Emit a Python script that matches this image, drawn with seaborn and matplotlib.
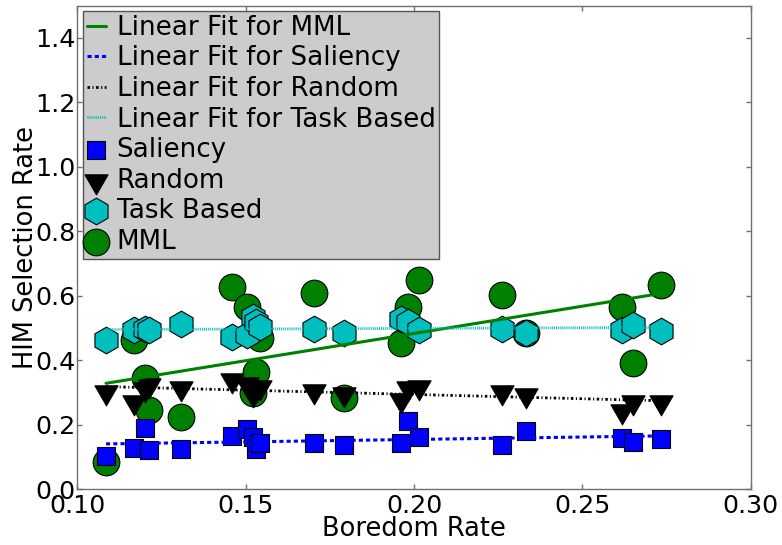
import numpy as np
import matplotlib
matplotlib.use("Agg")
import matplotlib.pyplot as plt
from matplotlib.ticker import FormatStrFormatter
import seaborn as sns

# Boredom rate per participant (shared by all four conditions)
boredom = [0.1085, 0.1167, 0.1201, 0.1214, 0.1307, 0.1458, 0.1505, 0.1523,
           0.1531, 0.1542, 0.1704, 0.1793, 0.1960, 0.1983, 0.2015, 0.2261,
           0.2332, 0.2617, 0.2649, 0.2733]

# HIM selection rate per condition
saliency = [0.104, 0.127, 0.189, 0.122, 0.126, 0.166, 0.186, 0.162, 0.125, 0.144,
            0.143, 0.137, 0.145, 0.213, 0.162, 0.137, 0.182, 0.158, 0.148, 0.156]
random_sel = [0.303, 0.272, 0.311, 0.324, 0.316, 0.339, 0.327, 0.296, 0.308, 0.317,
              0.306, 0.295, 0.277, 0.316, 0.318, 0.303, 0.292, 0.244, 0.272, 0.271]
task_based = [0.463, 0.494, 0.499, 0.494, 0.513, 0.473, 0.479, 0.535, 0.519, 0.503,
              0.497, 0.484, 0.527, 0.518, 0.494, 0.497, 0.484, 0.494, 0.510, 0.492]
mml = [0.085, 0.463, 0.344, 0.246, 0.225, 0.627, 0.566, 0.298, 0.365, 0.468,
       0.608, 0.282, 0.455, 0.566, 0.649, 0.603, 0.484, 0.566, 0.393, 0.634]

x_ticks = [0.10, 0.15, 0.20, 0.25, 0.30]
y_ticks = [0.0, 0.2, 0.4, 0.6, 0.8, 1.0, 1.2, 1.4]

sns.set_style("ticks")
FS_LABEL = 18.5
FS_TICK = 18.3
FS_LEGEND = 18.8
plt.rcParams.update({
    "font.family": ["DejaVu Sans"],
    "font.size": FS_LABEL,
    "text.color": "black",
    "axes.labelcolor": "black",
    "lines.scale_dashes": False,
    "axes.edgecolor": "#707070",
    "axes.linewidth": 1.0,
    "xtick.color": "#707070",
    "ytick.color": "#707070",
    "xtick.labelcolor": "black",
    "ytick.labelcolor": "black",
})

fig = plt.figure(figsize=(7.82, 5.45), dpi=100)
fig.patch.set_facecolor("white")
ax = fig.add_axes([0.099, 0.102, 0.861, 0.8875])
ax.set_facecolor("white")

GREEN = (0.0, 0.5, 0.0)
BLUE = (0.0, 0.0, 1.0)
CYAN = (0.0, 0.75, 0.75)
BLACK = (0.0, 0.0, 0.0)
S = 369  # marker area in points^2

# Scatter points (MML underneath the others)
sns.scatterplot(x=boredom, y=mml, marker="o", s=S, color=GREEN, edgecolor="black",
                linewidth=0.8, label="MML", ax=ax, legend=False)
sns.scatterplot(x=boredom, y=saliency, marker=(4, 0, 45), s=S, color=BLUE,
                edgecolor="black", linewidth=0.8, label="Saliency", ax=ax, legend=False)
sns.scatterplot(x=boredom, y=random_sel, marker=(3, 0, 180), s=S, color=BLACK,
                edgecolor="black", linewidth=0.8, label="Random", ax=ax, legend=False)
sns.scatterplot(x=boredom, y=task_based, marker=(6, 0, 0), s=S, color=CYAN,
                edgecolor="black", linewidth=0.8, label="Task Based", ax=ax, legend=False)

# Least-squares fit lines
fits = [
    (mml, "Linear Fit for MML", dict(color=GREEN, lw=2.2, ls="-")),
    (saliency, "Linear Fit for Saliency", dict(color=BLUE, lw=2.2, dashes=(3.0, 2.2))),
    (random_sel, "Linear Fit for Random",
     dict(color=BLACK, lw=2.0, dashes=(1.8, 1.8, 0.8, 1.8))),
    (task_based, "Linear Fit for Task Based", dict(color=CYAN, lw=2.0, dashes=(0.75, 0.75))),
]
for yvals, name, kws in fits:
    sns.regplot(x=boredom, y=yvals, scatter=False, ci=None, ax=ax, line_kws=kws)
    ax.lines[-1].set_label(name)

ax.set_xlim(0.10, 0.30)
ax.set_ylim(0.0, 1.5)
ax.set_xticks(x_ticks)
ax.set_yticks(y_ticks)
ax.xaxis.set_major_formatter(FormatStrFormatter("%.2f"))
ax.yaxis.set_major_formatter(FormatStrFormatter("%.1f"))
ax.tick_params(direction="in", length=3.5, width=1, top=True, right=True,
               labelsize=FS_TICK)
ax.tick_params(axis="x", pad=3)
ax.tick_params(axis="y", pad=1.5)
for sp in ax.spines.values():
    sp.set_visible(True)

ax.set_xlabel("Boredom Rate", fontsize=FS_LABEL, labelpad=-1)
ax.set_ylabel("HIM Selection Rate", fontsize=FS_LABEL, labelpad=-3)

handles, labels = ax.get_legend_handles_labels()
lookup = dict(zip(labels, handles))
order = ["Linear Fit for MML", "Linear Fit for Saliency", "Linear Fit for Random",
         "Linear Fit for Task Based", "Saliency", "Random", "Task Based", "MML"]
leg = ax.legend([lookup[k] for k in order], order, loc="upper left",
                fontsize=FS_LEGEND, frameon=True, fancybox=False, framealpha=1.0,
                facecolor="#cccccc", edgecolor="#555555", borderaxespad=0.2,
                borderpad=0.15, labelspacing=0.175, handlelength=0.75,
                handletextpad=0.4, scatterpoints=1, labelcolor="black")
leg.get_frame().set_linewidth(1.0)

fig.savefig("out.png", dpi=100, facecolor="white")
